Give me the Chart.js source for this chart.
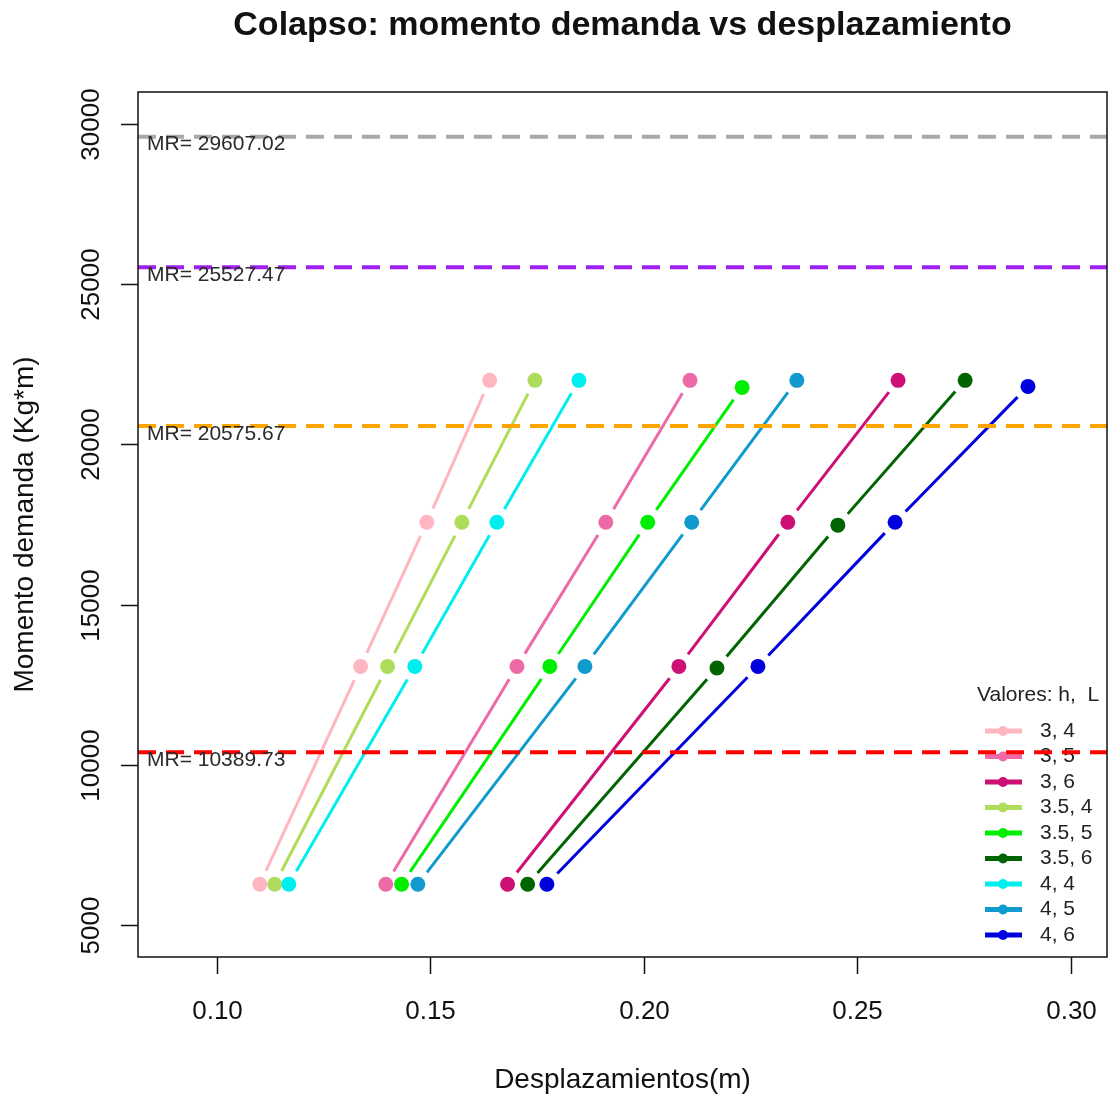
<!DOCTYPE html>
<html>
<head>
<meta charset="utf-8">
<title>Colapso: momento demanda vs desplazamiento</title>
<script src="https://cdn.jsdelivr.net/npm/chart.js@4.4.1/dist/chart.umd.min.js"></script>
<style>
    html, body { margin: 0; padding: 0; background: #fff; }
    #wrap { width: 1109px; height: 1097px; }
</style>
</head>
<body>
<div id="wrap"><canvas id="chart" width="1109" height="1097"></canvas></div>
<script>
// values
const seriesLabels = ['3, 4', '3, 5', '3, 6', '3.5, 4', '3.5, 5', '3.5, 6', '4, 4', '4, 5', '4, 6'];
const seriesColors = ['#FFB6C1', '#EE6AA7', '#CD1076', '#ADDD5A', '#00EE00', '#006400', '#00EEEE', '#109ACD', '#0000DD'];

// desplazamientos (m), one array per h, L pair
const despH3L4   = [0.1101, 0.1337, 0.1492, 0.1639];
const despH3L5   = [0.1396, 0.1703, 0.1911, 0.2108];
const despH3L6   = [0.1681, 0.2082, 0.2337, 0.2595];
const despH35L4  = [0.1136, 0.1400, 0.1574, 0.1745];
const despH35L5  = [0.1433, 0.1780, 0.2009, 0.2230];
const despH35L6  = [0.1728, 0.2171, 0.2454, 0.2752];
const despH4L4   = [0.1169, 0.1464, 0.1656, 0.1848];
const despH4L5   = [0.1471, 0.1862, 0.2112, 0.2358];
const despH4L6   = [0.1773, 0.2267, 0.2588, 0.2899];

// momento demanda (Kg*m)
const momH3L4  = [6270, 13070, 17570, 22000];
const momH3L5  = [6270, 13070, 17570, 22000];
const momH3L6  = [6270, 13070, 17570, 22000];
const momH35L4 = [6270, 13070, 17570, 22000];
const momH35L5 = [6270, 13070, 17570, 21780];
const momH35L6 = [6270, 13020, 17480, 22000];
const momH4L4  = [6270, 13070, 17570, 22000];
const momH4L5  = [6270, 13070, 17570, 22000];
const momH4L6  = [6270, 13070, 17570, 21810];

const despSeries = [despH3L4, despH3L5, despH3L6, despH35L4, despH35L5, despH35L6, despH4L4, despH4L5, despH4L6];
const momSeries  = [momH3L4, momH3L5, momH3L6, momH35L4, momH35L5, momH35L6, momH4L4, momH4L5, momH4L6];

// momentos resistentes
const mrValues = [29607.02, 25527.47, 20575.67, 10389.73];
const mrColors = ['#A9A9A9', '#A020F0', '#FFA500', '#FF0000'];

const xTicks = [0.10, 0.15, 0.20, 0.25, 0.30];
const yTicks = [5000, 10000, 15000, 20000, 25000, 30000];
const xMin = 0.0816, xMax = 0.3084;
const yMin = 4000, yMax = 31000;

const FONT = '"Liberation Sans", Arial, sans-serif';
const GAP = 15;

// R style type="b": segments stop short of each point
const gapLines = {
    id: 'gapLines',
    beforeDatasetsDraw(chart) {
        chart.$legendDone = false;
    },
    beforeDatasetDraw(chart, args) {
        const ds = chart.data.datasets[args.index];
        const ctx = chart.ctx;
        if (ds.kind === 'series') {
            const pts = args.meta.data;
            ctx.save();
            ctx.strokeStyle = ds.borderColor;
            ctx.lineWidth = 3;
            for (let i = 1; i < pts.length; i++) {
                const a = pts[i - 1], b = pts[i];
                const dx = b.x - a.x, dy = b.y - a.y;
                const len = Math.hypot(dx, dy);
                if (len <= 2 * GAP) continue;
                const ux = dx / len, uy = dy / len;
                ctx.beginPath();
                ctx.moveTo(a.x + ux * GAP, a.y + uy * GAP);
                ctx.lineTo(b.x - ux * GAP, b.y - uy * GAP);
                ctx.stroke();
            }
            ctx.restore();
        } else if (ds.kind === 'mr' && !chart.$legendDone) {
            drawLegend(chart);
            chart.$legendDone = true;
        }
    },
    afterDatasetsDraw(chart) {
        const ctx = chart.ctx;
        const area = chart.chartArea;
        const xs = chart.scales.x, ys = chart.scales.y;

        // MR labels
        ctx.save();
        ctx.fillStyle = '#2b2b2b';
        ctx.font = '21px ' + FONT;
        ctx.textAlign = 'left';
        ctx.textBaseline = 'middle';
        mrValues.forEach(v => {
            ctx.fillText('MR= ' + v.toFixed(2), area.left + 9, ys.getPixelForValue(v) + 8);
        });
        ctx.restore();

        // box + ticks
        ctx.save();
        ctx.strokeStyle = '#111';
        ctx.lineWidth = 1.5;
        ctx.strokeRect(area.left, area.top, area.right - area.left, area.bottom - area.top);
        ctx.fillStyle = '#111';
        ctx.font = '26px ' + FONT;
        ctx.textAlign = 'center';
        ctx.textBaseline = 'middle';
        xTicks.forEach(t => {
            const px = Math.round(xs.getPixelForValue(t)) + 0.5;
            ctx.beginPath();
            ctx.moveTo(px, area.bottom);
            ctx.lineTo(px, area.bottom + 17);
            ctx.stroke();
            ctx.fillText(t.toFixed(2), px, area.bottom + 55);
        });
        yTicks.forEach(t => {
            const py = Math.round(ys.getPixelForValue(t)) + 0.5;
            ctx.beginPath();
            ctx.moveTo(area.left, py);
            ctx.lineTo(area.left - 17, py);
            ctx.stroke();
            ctx.save();
            ctx.translate(area.left - 46, py);
            ctx.rotate(-Math.PI / 2);
            ctx.fillText(String(t), 0, 0);
            ctx.restore();
        });

        // axis titles
        const cx = (area.left + area.right) / 2;
        const cy = (area.top + area.bottom) / 2;
        ctx.font = '28px ' + FONT;
        ctx.fillText('Desplazamientos(m)', cx, area.bottom + 123);
        ctx.save();
        ctx.translate(25, cy);
        ctx.rotate(-Math.PI / 2);
        ctx.fillText('Momento demanda (Kg*m)', 0, 0);
        ctx.restore();

        // title
        ctx.font = 'bold 34px ' + FONT;
        ctx.fillText('Colapso: momento demanda vs desplazamiento', cx, 26);
        ctx.restore();
    }
};

function drawLegend(chart) {
    const ctx = chart.ctx;
    const area = chart.chartArea;
    const x0 = area.right - 130;
    ctx.save();
    ctx.fillStyle = '#222';
    ctx.font = '21px ' + FONT;
    ctx.textBaseline = 'middle';
    ctx.textAlign = 'left';
    ctx.fillText('Valores: h,  L', x0, 695);
    seriesLabels.forEach((lab, i) => {
        const y = 731 + i * 25.5;
        ctx.strokeStyle = seriesColors[i];
        ctx.lineWidth = 5;
        ctx.beginPath();
        ctx.moveTo(x0 + 8, y);
        ctx.lineTo(x0 + 45, y);
        ctx.stroke();
        ctx.fillStyle = seriesColors[i];
        ctx.beginPath();
        ctx.arc(x0 + 26, y, 5, 0, Math.PI * 2);
        ctx.fill();
        ctx.fillStyle = '#222';
        ctx.fillText(lab, x0 + 63, y);
    });
    ctx.restore();
}

const datasets = [];
seriesLabels.forEach((lab, i) => {
    datasets.push({
        kind: 'series',
        label: lab,
        data: despSeries[i].map((d, j) => ({ x: d, y: momSeries[i][j] })),
        showLine: false,
        borderColor: seriesColors[i],
        backgroundColor: seriesColors[i],
        pointRadius: 7.5,
        pointBorderWidth: 0,
        pointBackgroundColor: seriesColors[i],
        order: 20 - i
    });
});
mrValues.forEach((v, i) => {
    datasets.push({
        kind: 'mr',
        label: 'MR',
        data: [{ x: xMin, y: v }, { x: xMax, y: v }],
        showLine: true,
        borderColor: mrColors[i],
        borderWidth: 4,
        borderDash: [18, 10],
        pointRadius: 0,
        order: 5 - i
    });
});

new Chart(document.getElementById('chart').getContext('2d'), {
    type: 'scatter',
    data: { datasets },
    options: {
        responsive: false,
        animation: false,
        layout: { autoPadding: false, padding: { left: 138, right: 2, top: 92, bottom: 140 } },
        plugins: {
            legend: { display: false },
            tooltip: { enabled: false }
        },
        scales: {
            x: { type: 'linear', min: xMin, max: xMax, display: false },
            y: { type: 'linear', min: yMin, max: yMax, display: false }
        }
    },
    plugins: [gapLines]
});
</script>
</body>
</html>
